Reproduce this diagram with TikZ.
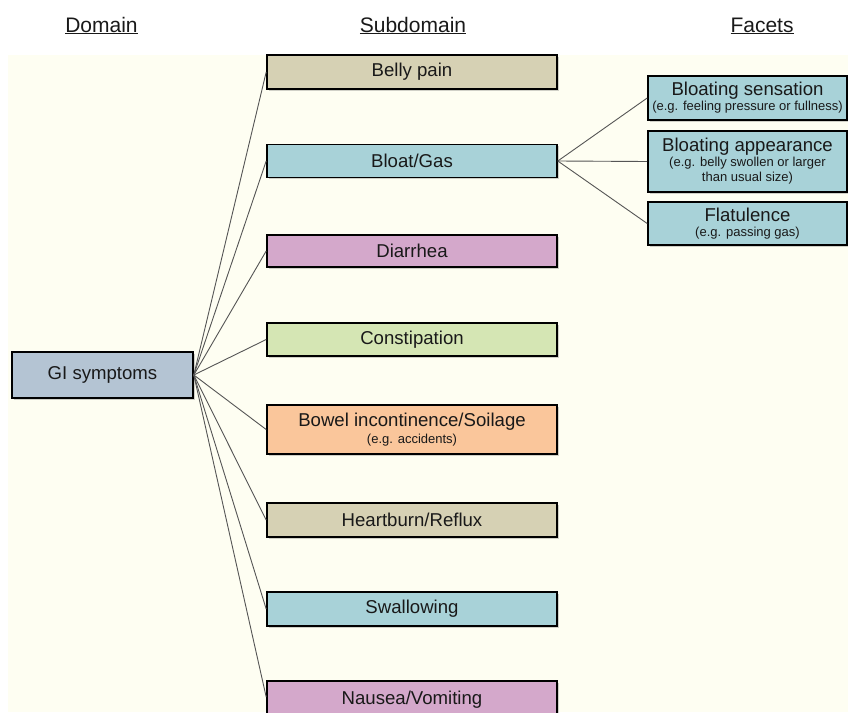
\documentclass[tikz,border=0pt]{standalone}
\usepackage{fontspec}
\setmainfont{Liberation Sans}
\usetikzlibrary{shadows}
\definecolor{bgcream}{RGB}{254,254,242}
\definecolor{tanbox}{RGB}{214,209,180}
\definecolor{bluebox}{RGB}{168,210,216}
\definecolor{mauvebox}{RGB}{212,168,203}
\definecolor{greenbox}{RGB}{213,230,180}
\definecolor{peachbox}{RGB}{250,198,155}
\definecolor{graybox}{RGB}{180,196,211}
\definecolor{linkgray}{RGB}{85,85,85}
\definecolor{txt}{RGB}{25,25,25}
\newcommand{\mainfs}{\fontsize{18.6}{16}\selectfont}
\newcommand{\smallfs}{\fontsize{13}{15}\selectfont}
\begin{document}
\begin{tikzpicture}[x=1pt,y=-1pt,
  boxstyle/.style={draw=black, line width=1.6pt, rectangle, inner sep=0pt,
    align=center, text=txt, font=\mainfs,
    drop shadow={shadow xshift=1.5pt, shadow yshift=-1.5pt, opacity=0.3, fill=black!60}},
  subbox/.style={boxstyle, minimum width=290pt},
  facetbox/.style={boxstyle, minimum width=199pt},
  header/.style={anchor=base, text=txt, font=\fontsize{21}{24}\selectfont, inner sep=0pt},
  link/.style={draw=linkgray, line width=0.9pt}]
\useasboundingbox (0,0) rectangle (848,712);
\fill[bgcream] (8,55) rectangle (848,712);

% headers
\node[header] (hdom) at (101.5,32) {\underline{Domain}};
\node[header] (hsub) at (413,32) {\underline{Subdomain}};
\node[header] (hfac) at (762,32) {\underline{Facets}};

% domain
\node[boxstyle, fill=graybox, minimum width=181pt, minimum height=46pt] (gi) at (102.5,375) {GI symptoms};

% subdomains
\node[subbox, fill=tanbox, minimum height=34pt] (belly) at (412,72) {Belly pain};
\node[subbox, fill=bluebox, minimum height=33pt] (bloat) at (412,161) {Bloat/Gas};
\node[subbox, fill=mauvebox, minimum height=32pt] (diar) at (412,251) {Diarrhea};
\node[subbox, fill=greenbox, minimum height=33pt] (const) at (412,339.5) {Constipation};
\node[subbox, fill=peachbox, minimum height=49pt] (bowel) at (412,429.5) {Bowel incontinence/Soilage\\[1.5pt]{\smallfs (e.g. accidents)}};
\node[subbox, fill=tanbox, minimum height=34pt] (heart) at (412,520) {Heartburn/Reflux};
\node[subbox, fill=bluebox, minimum height=34pt] (swal) at (412,609) {Swallowing};
\node[subbox, fill=mauvebox, minimum height=38pt] (naus) at (412,700) {\raisebox{3pt}{Nausea/Vomiting}};

% facets
\node[facetbox, fill=bluebox, minimum height=44pt] (bsens) at (747.5,98) {Bloating sensation\\[-1pt]{\smallfs (e.g. feeling pressure or fullness)}};
\node[facetbox, fill=bluebox, minimum height=61pt] (bapp) at (747.5,161.5) {Bloating appearance\\[-1pt]{\smallfs (e.g. belly swollen or larger}\\[-1pt]{\smallfs than usual size)}};
\node[facetbox, fill=bluebox, minimum height=43pt] (flat) at (747.5,223.5) {Flatulence\\[-1pt]{\smallfs (e.g. passing gas)}};

% connectors
\foreach \t in {belly,bloat,diar,const,bowel,heart,swal}
  \draw[link] (gi.east) -- (\t.west);
\draw[link] (gi.east) -- ([yshift=3pt]naus.west);
\foreach \t in {bsens,bapp,flat}
  \draw[link] (bloat.east) -- (\t.west);
\end{tikzpicture}
\end{document}
